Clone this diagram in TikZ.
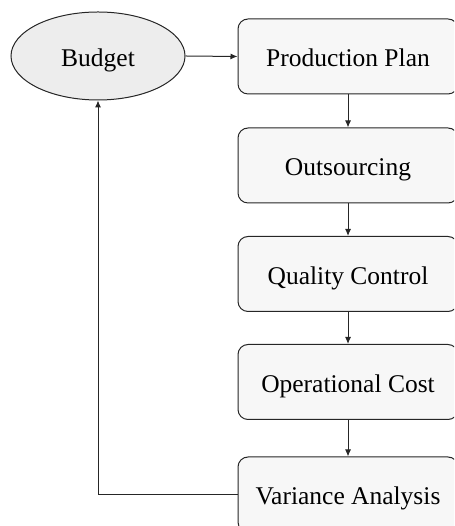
\documentclass[tikz,border=0pt]{standalone}
\usepackage{fontspec}
\setmainfont{Liberation Serif}
\usetikzlibrary{arrows.meta,shapes.geometric}
\begin{document}
\begin{tikzpicture}[x=1pt,y=1pt,
  stepbox/.style={draw=black!85, fill=black!3, rounded corners=10pt, minimum width=220pt, minimum height=75pt, inner sep=0pt, text height=21pt, text depth=0pt, font=\fontsize{25.5}{28}\selectfont, line width=1pt},
  ovalbox/.style={ellipse, draw=black!85, fill=black!7, minimum width=174pt, minimum height=88pt, inner sep=0pt, text height=21pt, text depth=0pt, font=\fontsize{25.5}{28}\selectfont, line width=1pt},
  conn/.style={draw=black!85, line width=1pt, -{Latex[length=7pt,width=6pt]}}]
\useasboundingbox (0,0) rectangle (454,526);
\clip (0,0) rectangle (454,526);
\node[ovalbox] (budget) at (98,470) {Budget};
\node[stepbox] (plan) at (348,469.5) {Production Plan};
\node[stepbox] (out) at (348,360.5) {Outsourcing};
\node[stepbox] (qc) at (348,252) {Quality Control};
\node[stepbox] (op) at (348,144) {Operational Cost};
\node[stepbox] (var) at (348,31.5) {Variance Analysis};
\draw[conn] (budget.east) -- (plan.west);
\draw[conn] (plan) -- (out);
\draw[conn] (out) -- (qc);
\draw[conn] (qc) -- (op);
\draw[conn] (op) -- (var);
\draw[conn] (var.west) -| (budget.south);
\end{tikzpicture}
\end{document}
